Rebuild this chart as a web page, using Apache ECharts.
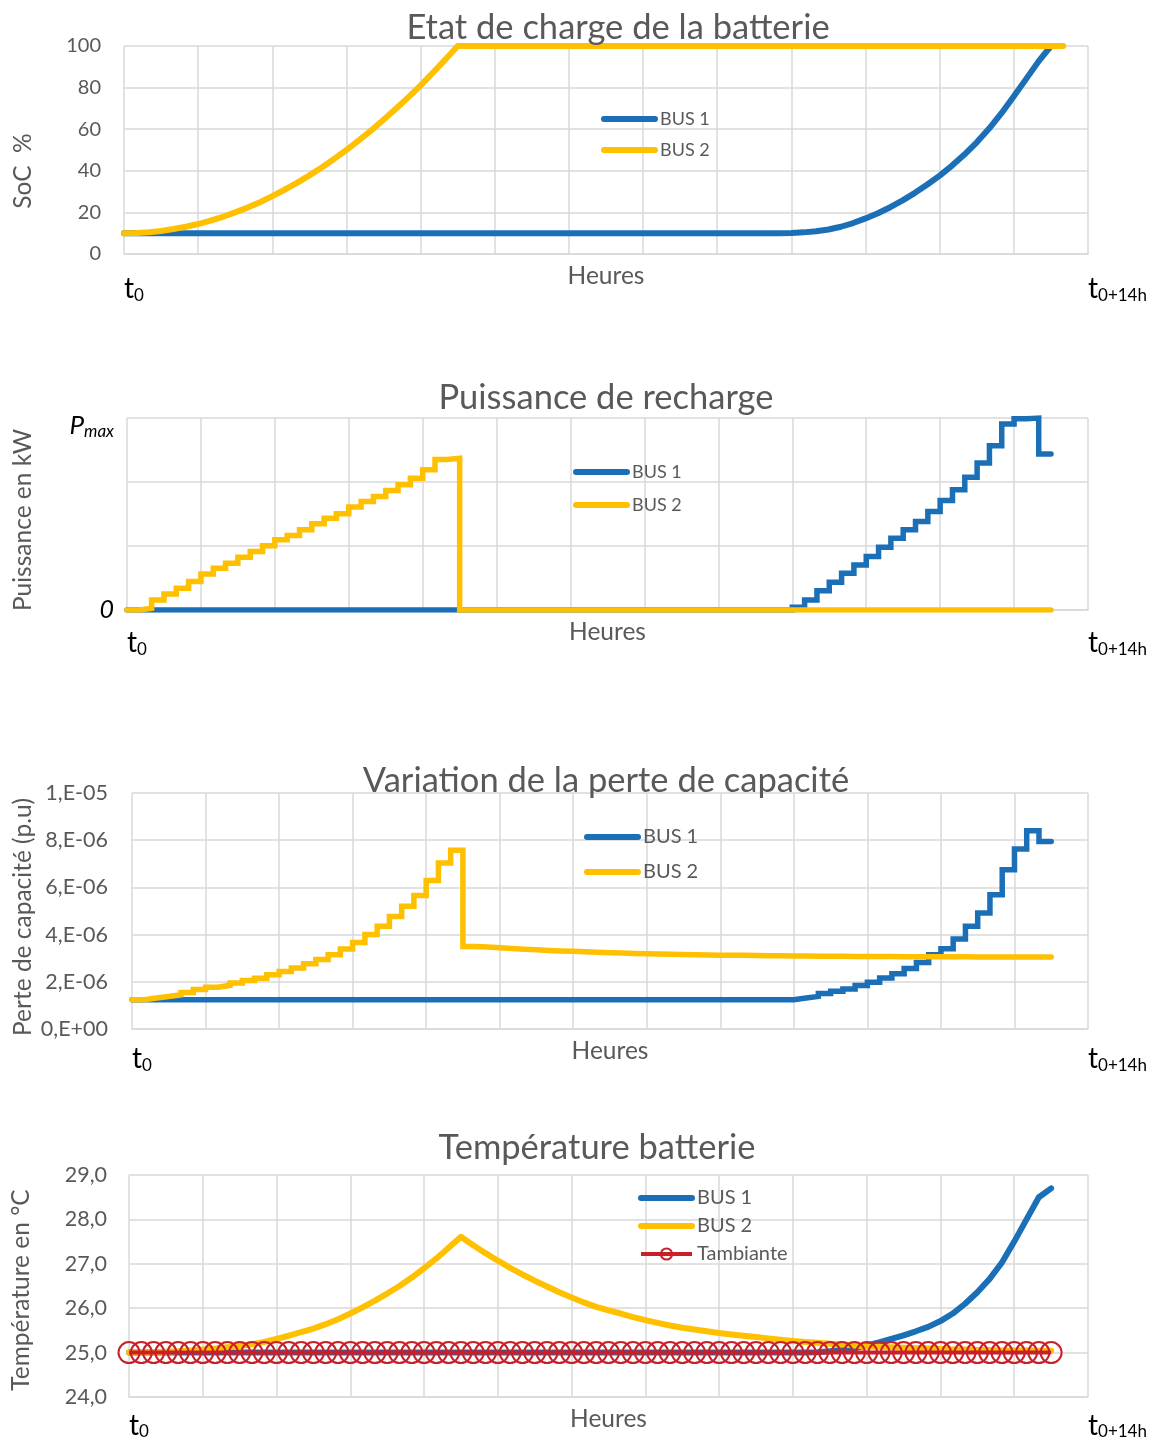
<!DOCTYPE html>
<html>
<head>
<meta charset="utf-8">
<script src="https://cdn.jsdelivr.net/npm/echarts@6/dist/echarts.min.js"></script>
<style>
html,body{margin:0;padding:0;background:#fff;}
#c{width:1157px;height:1440px;}
</style>
</head>
<body>
<div id="c"></div>
<script>
// ---- categories: time steps from t0 to t0+14h ----
const timeSteps = Array.from({length: 79}, (_, i) => String(i));

// ---- Etat de charge (SoC %) ----
const socBus1 = [
  10,10,10,10,10,10,10,10,10,10,
  10,10,10,10,10,10,10,10,10,10,
  10,10,10,10,10,10,10,10,10,10,
  10,10,10,10,10,10,10,10,10,10,
  10,10,10,10,10,10,10,10,10,10,
  10,10,10,10,10.1,10.4,10.9,11.8,13.1,14.9,
  17.1,19.6,22.5,25.8,29.4,33.4,37.7,42.5,47.8,53.7,
  60.3,67.7,75.8,84.2,92.6,100
];
const socBus2 = [
  10,10.1,10.5,11.1,12.0,13.1,14.4,16.0,17.9,20.0,
  22.3,24.9,27.8,30.9,34.2,37.8,41.6,45.7,50.0,54.6,
  59.4,64.5,69.8,75.3,81.1,87.2,93.5,100,100,100,
  100,100,100,100,100,100,100,100,100,100,
  100,100,100,100,100,100,100,100,100,100,
  100,100,100,100,100,100,100,100,100,100,
  100,100,100,100,100,100,100,100,100,100,
  100,100,100,100,100,100,100
];
const socTicks = [0, 20, 40, 60, 80, 100];

// ---- Puissance de recharge (0 .. Pmax = 150) ----
const powerBus1 = [
  0,0,0,0,0,0,0,0,0,0,
  0,0,0,0,0,0,0,0,0,0,
  0,0,0,0,0,0,0,0,0,0,
  0,0,0,0,0,0,0,0,0,0,
  0,0,0,0,0,0,0,0,0,0,
  0,0,0,0,2.1,7.8,15.1,21.7,28.7,35.2,
  41.7,49.0,56.1,62.6,69.1,77.0,85.6,93.9,103.8,114.8,
  128.4,145.3,149.5,150,121.8,121.8
];
const powerBus2 = [
  0,1.3,7.8,12.5,17.0,22.2,28.2,32.6,36.5,41.2,
  45.7,50.1,54.8,58.2,62.6,67.3,71.7,75.1,80.4,84.8,
  88.7,93.4,97.8,103.0,109.6,117.5,118.5,0,0,0,
  0,0,0,0,0,0,0,0,0,0,
  0,0,0,0,0,0,0,0,0,0,
  0,0,0,0,0,0,0,0,0,0,
  0,0,0,0,0,0,0,0,0,0,
  0,0,0,0,0,0
];
const powerTickLabels = {0: '0', 150: 'Pmax'};

// ---- Perte de capacité (units of 1E-06 p.u) ----
const lossBus1 = [
  1.24,1.24,1.24,1.24,1.24,1.24,1.24,1.24,1.24,1.24,
  1.24,1.24,1.24,1.24,1.24,1.24,1.24,1.24,1.24,1.24,
  1.24,1.24,1.24,1.24,1.24,1.24,1.24,1.24,1.24,1.24,
  1.24,1.24,1.24,1.24,1.24,1.24,1.24,1.24,1.24,1.24,
  1.24,1.24,1.24,1.24,1.24,1.24,1.24,1.24,1.24,1.24,
  1.24,1.24,1.24,1.24,1.31,1.38,1.50,1.60,1.69,1.84,
  1.98,2.16,2.34,2.56,2.82,3.15,3.40,3.81,4.35,4.92,
  5.69,6.75,7.63,8.40,7.95,7.95
];
const lossBus2 = [
  1.24,1.31,1.38,1.45,1.55,1.67,1.77,1.85,1.95,2.06,
  2.15,2.30,2.44,2.58,2.77,2.94,3.15,3.39,3.67,4.00,
  4.35,4.77,5.20,5.66,6.29,7.03,7.57,3.50,3.47,3.44,
  3.41,3.38,3.36,3.33,3.31,3.29,3.27,3.25,3.23,3.22,
  3.20,3.19,3.18,3.17,3.16,3.15,3.14,3.13,3.12,3.12,
  3.11,3.10,3.10,3.09,3.09,3.08,3.08,3.08,3.07,3.07,
  3.07,3.07,3.06,3.06,3.06,3.06,3.06,3.06,3.05,3.05,
  3.05,3.05,3.05,3.05,3.05,3.05
];
const lossTickLabels = {0: '0,E+00', 2: '2,E-06', 4: '4,E-06', 6: '6,E-06', 8: '8,E-06', 10: '1,E-05'};

// ---- Température batterie (°C) ----
const tempBus1 = [
  25,25,25,25,25,25,25,25,25,25,
  25,25,25,25,25,25,25,25,25,25,
  25,25,25,25,25,25,25,25,25,25,
  25,25,25,25,25,25,25,25,25,25,
  25,25,25,25,25,25,25,25,25,25,
  25,25,25,25,25,25,25.01,25.03,25.06,25.10,
  25.16,25.23,25.31,25.39,25.48,25.58,25.71,25.88,26.10,26.36,
  26.66,27.03,27.50,28.00,28.50,28.70
];
const tempBus2 = [
  25.00,25.00,25.01,25.02,25.03,25.05,25.07,25.09,25.12,25.15,
  25.19,25.24,25.31,25.38,25.46,25.54,25.64,25.75,25.88,26.02,
  26.17,26.33,26.50,26.69,26.90,27.12,27.36,27.61,27.42,27.24,
  27.07,26.91,26.76,26.62,26.49,26.36,26.24,26.13,26.03,25.95,
  25.88,25.80,25.73,25.67,25.61,25.56,25.52,25.48,25.44,25.41,
  25.38,25.35,25.32,25.29,25.26,25.24,25.22,25.20,25.18,25.16,
  25.14,25.13,25.12,25.11,25.10,25.09,25.08,25.07,25.07,25.06,
  25.06,25.05,25.05,25.05,25.04,25.04
];
const tempAmbient = [
  25,25,25,25,25,25,25,25,25,25,
  25,25,25,25,25,25,25,25,25,25,
  25,25,25,25,25,25,25,25,25,25,
  25,25,25,25,25,25,25,25,25,25,
  25,25,25,25,25,25,25,25,25,25,
  25,25,25,25,25,25,25,25,25,25,
  25,25,25,25,25,25,25,25,25,25,
  25,25,25,25,25,25
];

// ---- styling ----
const FONT = 'Lato';
const GRAY = '#595959';
const GRIDC = '#D9D9D9';
const BLUE = '#1A6FB7';
const YEL = '#FFC000';
const RED = '#C8202A';

const grids = [
  {left: 124, top: 46, width: 964, height: 208},
  {left: 127, top: 418, width: 961, height: 192},
  {left: 132, top: 793, width: 956, height: 236},
  {left: 129, top: 1175, width: 959, height: 222}
].map(g => Object.assign(g, {outerBoundsMode: 'none', containLabel: false}));
const xLabelMargins = [20, 18, 15, 13.5];

function makeXAxis(gi) {
  return {
    type: 'category', gridIndex: gi, data: timeSteps, boundaryGap: false,
    axisLine: {show: true, lineStyle: {color: GRIDC, width: 1.5}},
    axisTick: {show: false},
    splitLine: {show: true, interval: 5, lineStyle: {color: GRIDC, width: 1.5}},
    axisLabel: {
      show: true,
      interval: (i) => i === 0 || i === timeSteps.length - 1,
      margin: xLabelMargins[gi],
      alignMinLabel: 'left',
      alignMaxLabel: 'left',
      hideOverlap: false,
      formatter: (v) => (v === '0' ? '{t|t}{s|0}' : '{t|t}{s|0+14h}'),
      rich: {
        t: {fontFamily: FONT, fontSize: 28, color: '#000', lineHeight: 30},
        s: {fontFamily: FONT, fontSize: 17, color: '#000', lineHeight: 13, verticalAlign: 'bottom'}
      }
    },
    name: 'Heures', nameLocation: 'middle', nameGap: 10, nameMoveOverlap: false,
    nameTextStyle: {fontFamily: FONT, fontSize: 24.5, color: GRAY}
  };
}

const yNameStyle = (shift) => ({fontFamily: FONT, fontSize: 24.5, color: GRAY, padding: [0, shift * 2, 0, 0]});
const yLabelStyle = (fs) => ({fontFamily: FONT, fontSize: fs, color: GRAY});
const splitY = {show: true, lineStyle: {color: GRIDC, width: 1.5}};

const option = {
  animation: false,
  backgroundColor: '#fff',
  title: [
    {text: 'Etat de charge de la batterie', left: 618, top: 28},
    {text: 'Puissance de recharge', left: 606, top: 398},
    {text: 'Variation de la perte de capacité', left: 606, top: 781},
    {text: 'Température batterie', left: 597, top: 1148}
  ].map(t => Object.assign(t, {
    textAlign: 'center', textVerticalAlign: 'middle', padding: 0,
    textStyle: {fontFamily: FONT, fontSize: 34.5, fontWeight: 'normal', color: GRAY}
  })),
  grid: grids,
  xAxis: [makeXAxis(0), makeXAxis(1), makeXAxis(2), makeXAxis(3)],
  yAxis: [
    {
      type: 'value', gridIndex: 0, min: socTicks[0], max: socTicks[socTicks.length - 1], interval: 20,
      axisLine: {show: false}, axisTick: {show: false}, splitLine: splitY,
      axisLabel: Object.assign({margin: 23}, yLabelStyle(20)),
      name: 'SoC  %', nameLocation: 'middle', nameGap: 88, nameMoveOverlap: false, nameTextStyle: yNameStyle(21)
    },
    {
      type: 'value', gridIndex: 1, min: 0, max: 150, interval: 50,
      axisLine: {show: false}, axisTick: {show: false}, splitLine: splitY,
      axisLabel: {
        margin: 13,
        formatter: (v) => powerTickLabels[v] === 'Pmax' ? '{g| }\n{P|P}{m|max}' : (powerTickLabels[v] === '0' ? '{z|0}' : ''),
        rich: {
          g: {fontSize: 10, lineHeight: 16},
          P: {fontFamily: FONT, fontSize: 26, fontStyle: 'italic', color: '#000', lineHeight: 28},
          m: {fontFamily: FONT, fontSize: 17, fontStyle: 'italic', color: '#000', lineHeight: 4, verticalAlign: 'bottom'},
          z: {fontFamily: FONT, fontSize: 25, fontStyle: 'italic', color: '#000'}
        }
      },
      name: 'Puissance en kW', nameLocation: 'middle', nameGap: 91, nameMoveOverlap: false, nameTextStyle: yNameStyle(6)
    },
    {
      type: 'value', gridIndex: 2, min: 0, max: 10, interval: 2,
      axisLine: {show: false}, axisTick: {show: false}, splitLine: splitY,
      axisLabel: Object.assign({margin: 24, formatter: (v) => lossTickLabels[v]}, yLabelStyle(21.5)),
      name: 'Perte de capacité (p.u)', nameLocation: 'middle', nameGap: 96, nameMoveOverlap: false, nameTextStyle: yNameStyle(6)
    },
    {
      type: 'value', gridIndex: 3, min: 24, max: 29, interval: 1,
      axisLine: {show: false}, axisTick: {show: false}, splitLine: splitY,
      axisLabel: Object.assign({margin: 22, formatter: (v) => v.toFixed(1).replace('.', ',')}, yLabelStyle(21.5)),
      name: 'Température en °C', nameLocation: 'middle', nameGap: 95, nameMoveOverlap: false, nameTextStyle: yNameStyle(4)
    }
  ],
  legend: [
    {left: 601, top: 110, itemGap: 13, fs: 18},
    {left: 573, top: 463, itemGap: 15, fs: 18},
    {left: 584, top: 827, itemGap: 15, fs: 20},
    {left: 638, top: 1188, itemGap: 8, fs: 20, tam: true}
  ].map(l => {
    const data = [
      {name: 'BUS 1', itemStyle: {opacity: 0}, lineStyle: {width: 6}},
      {name: 'BUS 2', itemStyle: {opacity: 0}, lineStyle: {width: 6}}
    ];
    if (l.tam) data.push({name: 'Tambiante', lineStyle: {width: 4},
      itemStyle: {color: 'rgba(0,0,0,0)', borderColor: RED, borderWidth: 2}});
    return {
      left: l.left, top: l.top, orient: 'vertical', padding: 0,
      itemWidth: 51, itemHeight: 14, itemGap: l.itemGap,
      selectedMode: false,
      textStyle: {fontFamily: FONT, fontSize: l.fs, color: GRAY},
      data: data
    };
  }),
  series: [
    // chart 1
    {name: 'BUS 1', type: 'line', xAxisIndex: 0, yAxisIndex: 0, data: socBus1, symbol: 'none',
      lineStyle: {color: BLUE, width: 6, cap: 'round', join: 'round'}, itemStyle: {color: BLUE}},
    {name: 'BUS 2', type: 'line', xAxisIndex: 0, yAxisIndex: 0, data: socBus2, symbol: 'none',
      lineStyle: {color: YEL, width: 6, cap: 'round', join: 'round'}, itemStyle: {color: YEL}},
    // chart 2
    {name: 'BUS 1', type: 'line', xAxisIndex: 1, yAxisIndex: 1, data: powerBus1, symbol: 'none', step: 'end',
      lineStyle: {color: BLUE, width: 5.5, cap: 'round', join: 'miter'}, itemStyle: {color: BLUE}},
    {name: 'BUS 2', type: 'line', xAxisIndex: 1, yAxisIndex: 1, data: powerBus2, symbol: 'none', step: 'end',
      lineStyle: {color: YEL, width: 5.5, cap: 'round', join: 'miter'}, itemStyle: {color: YEL}},
    // chart 3
    {name: 'BUS 1', type: 'line', xAxisIndex: 2, yAxisIndex: 2, data: lossBus1, symbol: 'none', step: 'end',
      lineStyle: {color: BLUE, width: 5.5, cap: 'round', join: 'miter'}, itemStyle: {color: BLUE}},
    {name: 'BUS 2', type: 'line', xAxisIndex: 2, yAxisIndex: 2, data: lossBus2, symbol: 'none', step: 'end',
      lineStyle: {color: YEL, width: 5.5, cap: 'round', join: 'miter'}, itemStyle: {color: YEL}},
    // chart 4
    {name: 'BUS 1', type: 'line', xAxisIndex: 3, yAxisIndex: 3, data: tempBus1, symbol: 'none',
      lineStyle: {color: BLUE, width: 6, cap: 'round', join: 'round'}, itemStyle: {color: BLUE}},
    {name: 'BUS 2', type: 'line', xAxisIndex: 3, yAxisIndex: 3, data: tempBus2, symbol: 'none',
      lineStyle: {color: YEL, width: 6, cap: 'round', join: 'round'}, itemStyle: {color: YEL}},
    {name: 'Tambiante', type: 'line', xAxisIndex: 3, yAxisIndex: 3, data: tempAmbient,
      symbol: 'circle', symbolSize: 21, showSymbol: true, showAllSymbol: true,
      lineStyle: {color: RED, width: 4},
      itemStyle: {color: 'rgba(0,0,0,0)', borderColor: RED, borderWidth: 2}}
  ]
};

const chart = echarts.init(document.getElementById('c'), null, {renderer: 'canvas'});
chart.setOption(option);
</script>
</body>
</html>
